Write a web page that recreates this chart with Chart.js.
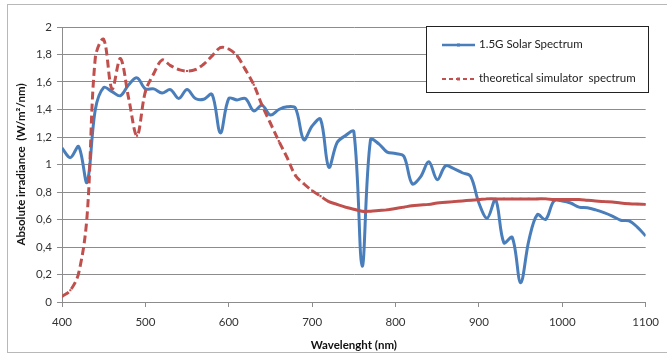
<!DOCTYPE html>
<html>
<head>
<meta charset="utf-8">
<script src="https://cdn.jsdelivr.net/npm/chart.js@4.4.1/dist/chart.umd.min.js"></script>
<style>
  html, body { margin: 0; padding: 0; background: #fff; }
  #wrap { position: relative; width: 667px; height: 355px; font-family: Lato, 'Open Sans', sans-serif; }
  #frame { position: absolute; left: 7px; top: 4px; width: 670px; height: 349px; border: 1.5px solid #b8b8b8; box-sizing: border-box; }
  #legend { position: absolute; left: 426px; top: 26px; width: 223px; height: 67px; border: 1px solid #222; background: #fff; box-sizing: border-box; font-size: 11.5px; color: #222; }
  .item { position: absolute; left: 15px; height: 14px; line-height: 14px; white-space: pre; }
  .item canvas { vertical-align: middle; margin-right: 4px; }
</style>
</head>
<body>
<div id="wrap">
  <div id="frame"></div>
  <canvas id="chart" width="667" height="355"></canvas>
  <div id="legend">
    <div class="item" style="top:10px"><canvas id="lg1" width="33" height="10"></canvas>1.5G Solar Spectrum</div>
    <div class="item" style="top:44px"><canvas id="lg2" width="33" height="10"></canvas>theoretical simulator  spectrum</div>
  </div>
</div>
<script>
// wavelength axis, 10 nm steps
const wavelengths = [];
for (let w = 400; w <= 1100; w += 10) wavelengths.push(w);

// AM1.5G solar spectrum (W/m2/nm)
const solarValues = [
  1.12, 1.05, 1.13, 0.87, 1.40, 1.56, 1.53, 1.50, 1.58, 1.63,
  1.55, 1.55, 1.52, 1.545, 1.48, 1.545, 1.48, 1.475, 1.51, 1.23,
  1.48, 1.47, 1.48, 1.39, 1.43, 1.36, 1.40, 1.42, 1.41, 1.18,
  1.28, 1.33, 0.98, 1.16, 1.21, 1.24, 0.26, 1.18, 1.15, 1.09,
  1.08, 1.06, 0.86, 0.91, 1.02, 0.89, 0.99, 0.97, 0.94, 0.915,
  0.72, 0.61, 0.745, 0.43, 0.47, 0.14, 0.45, 0.635, 0.60, 0.735,
  0.735, 0.72, 0.69, 0.685, 0.67, 0.65, 0.625, 0.595, 0.59, 0.545,
  0.48
];

// theoretical simulator spectrum
const simulatorValues = [
  0.04, 0.085, 0.21, 0.62, 1.78, 1.91, 1.55, 1.77, 1.48, 1.21,
  1.53, 1.66, 1.76, 1.72, 1.69, 1.68, 1.69, 1.73, 1.79, 1.85,
  1.84, 1.79, 1.69, 1.58, 1.43, 1.30, 1.17, 1.05, 0.92, 0.86,
  0.81, 0.77, 0.73, 0.71, 0.69, 0.675, 0.66, 0.66, 0.665, 0.67,
  0.68, 0.69, 0.70, 0.705, 0.71, 0.72, 0.725, 0.73, 0.735, 0.74,
  0.745, 0.75, 0.75, 0.75, 0.75, 0.75, 0.75, 0.75, 0.75, 0.745,
  0.745, 0.745, 0.745, 0.74, 0.735, 0.73, 0.727, 0.72, 0.715, 0.712,
  0.71
];

const xTicks = [400, 500, 600, 700, 800, 900, 1000, 1100];

const blue = '#4a7ebb';
const red = '#c0504d';
const gridColor = '#8c8c8c';

function toPoints(values) {
  return wavelengths.map((w, i) => ({ x: w, y: values[i] }));
}

const ctx = document.getElementById('chart');
new Chart(ctx, {
  type: 'line',
  data: {
    datasets: [
      {
        label: '1.5G Solar Spectrum',
        data: toPoints(solarValues),
        borderColor: blue,
        backgroundColor: blue,
        borderWidth: 3,
        pointRadius: 0,
        tension: 0.35,
        order: 2
      },
      {
        label: 'theoretical simulator  spectrum',
        data: toPoints(simulatorValues),
        borderColor: red,
        backgroundColor: red,
        borderWidth: 3,
        borderDash: [],
        pointStyle: 'rect',
        pointRadius: 1.5,
        pointBorderWidth: 0,
        tension: 0.35,
        segment: {
          borderDash: c => c.p0.parsed.x < 720 ? [8, 4] : []
        },
        order: 1
      }
    ]
  },
  options: {
    responsive: false,
    animation: false,
    layout: { padding: { top: 27, right: 20, left: 14, bottom: 3 } },
    plugins: {
      legend: { display: false },
      tooltip: { enabled: false }
    },
    scales: {
      x: {
        type: 'linear',
        min: 400,
        max: 1100,
        afterBuildTicks: s => { s.ticks = xTicks.map(v => ({ value: v })); },
        afterFit: s => { s.height = 50; },
        grid: { drawOnChartArea: false, drawTicks: true, tickLength: 5, color: gridColor },
        border: { display: true, color: gridColor, width: 1 },
        ticks: {
          color: '#333',
          font: { family: 'Lato', size: 11.5 },
          padding: 8,
          maxRotation: 0,
          callback: v => String(v)
        },
        title: { display: true, text: 'Wavelenght (nm)', color: '#111', font: { family: 'Lato', size: 11.5, weight: 'bold' }, padding: { top: 4, bottom: 0 } }
      },
      y: {
        min: 0,
        max: 2,
        afterFit: s => { s.width = 48; },
        grid: { color: gridColor, lineWidth: 1, tickLength: 5 },
        border: { display: true, color: gridColor, width: 1 },
        ticks: {
          stepSize: 0.2,
          color: '#333',
          font: { family: 'Lato', size: 11.5 },
          padding: 5,
          callback: v => String(Math.round(v * 10) / 10).replace('.', ',')
        },
        title: { display: true, text: 'Absolute irradiance  (W/m²/nm)', color: '#111', font: { family: 'Lato', size: 11.5, weight: 'bold' }, padding: { top: 0, bottom: 0 } }
      }
    }
  }
});

// legend samples
function drawSample(id, color, dashed) {
  const c = document.getElementById(id).getContext('2d');
  c.strokeStyle = color;
  c.fillStyle = color;
  c.lineWidth = dashed ? 2 : 2.4;
  c.setLineDash(dashed ? [4, 3] : []);
  c.beginPath();
  c.moveTo(0, 5);
  c.lineTo(33, 5);
  c.stroke();
  c.fillRect(15, 3.5, 3, 3);
}
drawSample('lg1', blue, false);
drawSample('lg2', red, true);
</script>
</body>
</html>
